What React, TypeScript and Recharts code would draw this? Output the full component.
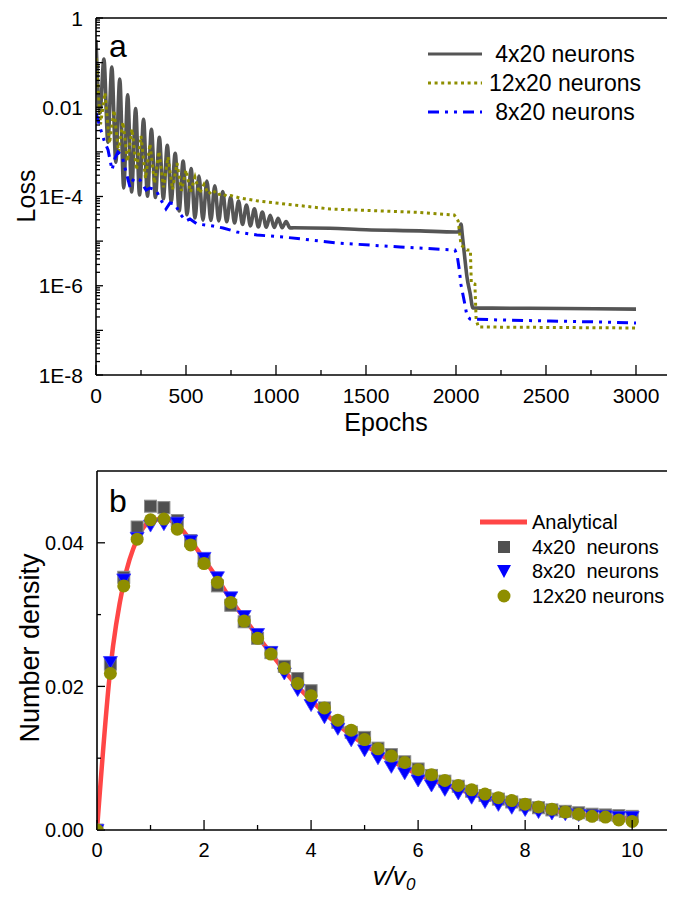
import React from 'react';
import { ComposedChart, Line, Scatter, XAxis, YAxis, ReferenceLine } from 'recharts';

const FONT = '"Liberation Sans", Arial, Helvetica, sans-serif';

// ---------------- Panel a : Loss vs Epochs ----------------
const grayEpochs = [
  0, 22, 44, 66, 88, 110, 132, 154, 176, 198,
  220, 242, 264, 286, 308, 330, 352, 374, 396, 418,
  440, 462, 484, 506, 528, 550, 572, 594, 616, 638,
  660, 682, 704, 726, 748, 770, 792, 814, 836, 858,
  880, 902, 924, 946, 968, 990, 1012, 1034, 1056, 1078,
  1100, 1300, 1500, 1800, 2000, 2015, 2028, 2035, 2050, 2061, 2078, 2094, 2200, 2600, 3000,
];
const grayLoss = [
  0.321, 7.5e-3, 0.12, 1.64e-3, 0.0798, 5.87e-4, 0.043, 1.55e-4, 0.0191, 1.26e-4,
  9.37e-3, 1.08e-4, 5.4e-3, 1.02e-4, 3.19e-3, 9.55e-5, 2.11e-3, 8.88e-5, 1.4e-3, 7.76e-5,
  9.33e-4, 4.73e-5, 6.21e-4, 3.89e-5, 4.22e-4, 3.3e-5, 2.88e-4, 2.96e-5, 2.21e-4, 2.9e-5,
  1.73e-4, 2.85e-5, 1.29e-4, 2.72e-5, 9.6e-5, 2.55e-5, 7.9e-5, 2.37e-5, 6.45e-5, 2.2e-5,
  5.3e-5, 2.07e-5, 4.47e-5, 2.04e-5, 3.81e-5, 2.02e-5, 3.23e-5, 1.99e-5, 2.75e-5, 1.97e-5,
  2.0e-5, 1.94e-5, 1.8e-5, 1.7e-5, 1.6e-5, 1.6e-5, 2.4e-5, 1.37e-5, 3.8e-6, 1.57e-6, 6.9e-7, 3.2e-7, 3.15e-7, 3.1e-7, 3.0e-7,
];

const oliveEpochs = [
  0, 25, 50, 75, 100, 125, 150, 175, 200, 225,
  250, 275, 300, 325, 350, 375, 400, 425, 450, 475,
  500, 525, 550, 575, 600, 625, 650, 675, 700, 725,
  750, 800, 900, 1000, 1100, 1300, 1600, 1800, 1990, 2012,
  2028, 2060, 2080, 2085, 2105, 2112, 2125, 3000,
];
const oliveLoss = [
  0.127, 4.13e-3, 0.021, 1.55e-3, 8.59e-3, 9.98e-4, 4.67e-3, 6.15e-4, 3.27e-3, 3.93e-4,
  2.28e-3, 2.52e-4, 1.52e-3, 1.97e-4, 1.03e-3, 1.6e-4, 7.71e-4, 1.42e-4, 5.6e-4, 1.34e-4,
  3.94e-4, 1.26e-4, 2.72e-4, 1.19e-4, 1.86e-4, 1.13e-4, 1.4e-4, 1.07e-4, 1.18e-4, 1.02e-4,
  1.05e-4, 9.25e-5, 7.93e-5, 7.15e-5, 6.45e-5, 5.25e-5, 4.73e-5, 4.38e-5, 3.85e-5, 2.83e-5,
  8.2e-6, 6.3e-6, 6.3e-6, 1.15e-6, 1.09e-6, 1.71e-7, 1.19e-7, 1.13e-7,
];

const blueEpochs = [
  0, 22, 44, 67, 89, 106, 122, 144, 167, 189,
  211, 244, 278, 300, 333, 361, 389, 411, 439, 467,
  500, 522, 561, 606, 650, 706, 783, 894, 1039, 1339,
  1689, 1994, 2006, 2017, 2028, 2039, 2050, 2061, 2078, 2244,
  2522, 2800, 3000,
];
const blueLoss = [
  7.43e-3, 3.61e-3, 1.85e-3, 1.1e-3, 3.93e-4, 7.29e-4, 9.93e-4, 8.09e-4, 3.54e-4, 1.63e-4,
  2.6e-4, 2.34e-4, 1.4e-4, 1.55e-4, 1.4e-4, 8.35e-5, 5.25e-5, 7.15e-5, 6.79e-5, 4.06e-5,
  2.83e-5, 3.13e-5, 2.42e-5, 2.3e-5, 2.18e-5, 1.97e-5, 1.6e-5, 1.37e-5, 1.24e-5, 9.08e-6,
  7.38e-6, 6.32e-6, 4.89e-6, 2.5e-6, 1.04e-6, 6.21e-7, 3.71e-7, 2.1e-7, 1.8e-7, 1.71e-7,
  1.62e-7, 1.54e-7, 1.46e-7,
];

const epochTicks = [0, 250, 500, 750, 1000, 1250, 1500, 1750, 2000, 2250, 2500, 2750, 3000];
const epochLabelStep = 500;
const lossDecades = [-8, -7, -6, -5, -4, -3, -2, -1];
const lossMinorMult = [1, 2, 3, 4, 5, 6, 7, 8, 9];
const lossLabelValues = [1, 0.01, 1e-4, 1e-6, 1e-8];
const lossLabelTexts = ['1', '0.01', '1E-4', '1E-6', '1E-8'];

// ---------------- Panel b : Number density vs v/v0 ----------------
const vRatio = [
  0, 0.25, 0.5, 0.75, 1, 1.25, 1.5, 1.75, 2, 2.25, 2.5, 2.75, 3, 3.25, 3.5, 3.75, 4, 4.25, 4.5, 4.75,
  5, 5.25, 5.5, 5.75, 6, 6.25, 6.5, 6.75, 7, 7.25, 7.5, 7.75, 8, 8.25, 8.5, 8.75, 9, 9.25, 9.5, 9.75, 10,
];
const analytical = [
  0, 0.0225, 0.0345, 0.0405, 0.043, 0.0433, 0.0425, 0.0403, 0.0377, 0.035, 0.0321, 0.0295, 0.027, 0.0246,
  0.0222, 0.02, 0.0181, 0.0163, 0.0147, 0.0132, 0.0119, 0.0107, 0.0096, 0.0087, 0.0077, 0.007, 0.0063,
  0.0057, 0.0051, 0.0046, 0.0041, 0.0037, 0.0033, 0.003, 0.0027, 0.0024, 0.0022, 0.002, 0.0018, 0.0017, 0.0016,
];
const nn4x20 = [
  0, 0.0231, 0.0352, 0.0422, 0.0451, 0.0449, 0.0431, 0.0403, 0.0375, 0.034, 0.0313, 0.029, 0.0267, 0.0247,
  0.0228, 0.0211, 0.0194, 0.017, 0.015, 0.0136, 0.0129, 0.0114, 0.0105, 0.0095, 0.0085, 0.0076, 0.0068,
  0.0061, 0.0054, 0.0048, 0.0043, 0.0039, 0.0035, 0.0031, 0.0028, 0.0026, 0.0024, 0.0022, 0.0021, 0.002, 0.0019,
];
const nn8x20 = [
  0, 0.0234, 0.0349, 0.0407, 0.0424, 0.0426, 0.0428, 0.0403, 0.0379, 0.0352, 0.0324, 0.0298, 0.0273, 0.0248,
  0.0218, 0.0195, 0.0174, 0.0157, 0.0141, 0.0125, 0.0111, 0.01, 0.0088, 0.0079, 0.0069, 0.0062, 0.0056,
  0.0051, 0.0045, 0.0039, 0.0035, 0.0031, 0.0028, 0.0025, 0.0023, 0.0022, 0.0021, 0.002, 0.0019, 0.0018, 0.0018,
];
const nn12x20 = [
  0, 0.0218, 0.034, 0.0405, 0.0432, 0.0433, 0.0419, 0.0397, 0.0371, 0.0345, 0.0317, 0.0291, 0.0267, 0.0245,
  0.0225, 0.0204, 0.0187, 0.017, 0.0153, 0.0139, 0.0126, 0.0113, 0.0103, 0.0094, 0.0084, 0.0077, 0.0069,
  0.0062, 0.0056, 0.005, 0.0045, 0.0041, 0.0036, 0.0032, 0.0029, 0.0025, 0.0022, 0.0019, 0.0018, 0.0014, 0.0012,
];
const vTicks = [0, 1, 2, 3, 4, 5, 6, 7, 8, 9, 10];
const densityTicks = [0, 0.01, 0.02, 0.03, 0.04];
const densityLabelTicks = [0, 0.02, 0.04];

const topLegend = ['4x20 neurons', '12x20 neurons', '8x20 neurons'];
const bottomLegend = ['Analytical', '4x20  neurons', '8x20  neurons', '12x20 neurons'];

// ---------------- styles ----------------
const GRAY = '#555555';
const OLIVE = '#8e8e00';
const BLUE = '#0000ff';
const RED = '#ff4646';
const TM = 13;

const toPts = (xs: number[], ys: number[]) => xs.map((x, i) => ({ x, y: ys[i] }));

const grayData = toPts(grayEpochs, grayLoss);
const oliveData = toPts(oliveEpochs, oliveLoss);
const blueData = toPts(blueEpochs, blueLoss);

const lossTicks: number[] = [];
lossDecades.forEach((d) => lossMinorMult.forEach((m) => lossTicks.push(m * Math.pow(10, d))));
lossTicks.push(1);

const analyticalData = toPts(vRatio, analytical);
const d4 = toPts(vRatio, nn4x20);
const d8 = toPts(vRatio, nn8x20);
const d12 = toPts(vRatio, nn12x20);

function LossTick(props: any) {
  const { x, y, payload } = props;
  const v = payload.value as number;
  const exp = Math.round(Math.log10(v));
  const isDecade = Math.abs(v / Math.pow(10, exp) - 1) < 1e-6;
  const idx = lossLabelValues.findIndex((lv) => Math.abs(lv / v - 1) < 1e-6);
  const ax = x + TM;
  return (
    <g>
      <line x1={ax} x2={ax + (isDecade ? 7 : 4)} y1={y} y2={y} stroke="#000" strokeWidth={1.3} />
      {idx >= 0 && (
        <text x={x} y={y} dy="0.36em" textAnchor="end" fontSize={21} fontFamily={FONT} fill="#000">
          {lossLabelTexts[idx]}
        </text>
      )}
    </g>
  );
}

function EpochTick(props: any) {
  const { x, y, payload } = props;
  const v = payload.value as number;
  const major = v % epochLabelStep === 0;
  const ay = y - TM;
  return (
    <g>
      <line x1={x} x2={x} y1={ay} y2={ay - (major ? 10 : 5)} stroke="#000" strokeWidth={1.3} />
      {major && (
        <text x={x} y={y} dy="0.72em" textAnchor="middle" fontSize={21} fontFamily={FONT} fill="#000">
          {v}
        </text>
      )}
    </g>
  );
}

function DensityTick(props: any) {
  const { x, y, payload } = props;
  const v = payload.value as number;
  const major = densityLabelTicks.some((t) => Math.abs(t - v) < 1e-9);
  const ax = x + TM;
  return (
    <g>
      <line x1={ax} x2={ax + (major ? 8 : 4)} y1={y} y2={y} stroke="#000" strokeWidth={1.3} />
      {major && (
        <text x={x} y={y} dy="0.36em" textAnchor="end" fontSize={20} fontFamily={FONT} fill="#000">
          {v.toFixed(2)}
        </text>
      )}
    </g>
  );
}

function VTick(props: any) {
  const { x, y, payload } = props;
  const v = payload.value as number;
  const major = v % 2 === 0;
  const ay = y - TM;
  return (
    <g>
      <line x1={x} x2={x} y1={ay} y2={ay - (major ? 10 : 5)} stroke="#000" strokeWidth={1.3} />
      {major && (
        <text x={x} y={y} dy="0.72em" textAnchor="middle" fontSize={20} fontFamily={FONT} fill="#000">
          {v}
        </text>
      )}
    </g>
  );
}

const SquareShape = (p: any) => (
  <rect x={p.cx - 6} y={p.cy - 6} width={12} height={12} fill="#505050" stroke="#8c8c8c" strokeWidth={1} />
);
const TriangleShape = (p: any) => (
  <polygon
    points={`${p.cx - 7},${p.cy - 5.5} ${p.cx + 7},${p.cy - 5.5} ${p.cx},${p.cy + 6.5}`}
    fill={BLUE}
    stroke="#3a3aff"
    strokeWidth={0.8}
  />
);
const CircleShape = (p: any) => <circle cx={p.cx} cy={p.cy} r={6.5} fill={OLIVE} />;

const axisLine = { stroke: '#000', strokeWidth: 1.6 };

export default function App() {
  return (
    <div style={{ position: 'relative', width: 667, height: 885, background: '#fff' }}>
      <ComposedChart width={667} height={450} margin={{ top: 10, right: 0, bottom: 0, left: 0 }}>
        <XAxis
          type="number"
          dataKey="x"
          domain={[0, 3216.7]}
          allowDataOverflow
          ticks={epochTicks}
          interval={0}
          tickSize={0}
          tickMargin={TM}
          tickLine={false}
          axisLine={axisLine}
          tick={(p: any) => <EpochTick {...p} />}
          height={83}
        />
        <YAxis
          type="number"
          scale="log"
          domain={[1e-8, 1]}
          allowDataOverflow
          ticks={lossTicks}
          interval={0}
          tickSize={0}
          tickMargin={TM}
          tickLine={false}
          axisLine={axisLine}
          tick={(p: any) => <LossTick {...p} />}
          width={88}
        />
        <ReferenceLine y={1} stroke="#000" strokeWidth={1.6} />
        <Line data={grayData} dataKey="y" type="monotone" stroke={GRAY} strokeWidth={3.6} dot={false} activeDot={false} isAnimationActive={false} />
        <Line data={oliveData} dataKey="y" type="linear" stroke={OLIVE} strokeWidth={3} strokeDasharray="3 3.6" dot={false} activeDot={false} isAnimationActive={false} />
        <Line data={blueData} dataKey="y" type="linear" stroke={BLUE} strokeWidth={3} strokeDasharray="11 6 3 6 3 6" dot={false} activeDot={false} isAnimationActive={false} />
      </ComposedChart>

      <ComposedChart width={667} height={435} margin={{ top: 13, right: 0, bottom: 0, left: 0 }}>
        <XAxis
          type="number"
          dataKey="x"
          domain={[0, 10.8]}
          allowDataOverflow
          ticks={vTicks}
          interval={0}
          tickSize={0}
          tickMargin={TM}
          tickLine={false}
          axisLine={axisLine}
          tick={(p: any) => <VTick {...p} />}
          height={63}
        />
        <YAxis
          type="number"
          domain={[0, 0.05]}
          allowDataOverflow
          ticks={densityTicks}
          interval={0}
          tickSize={0}
          tickMargin={TM}
          tickLine={false}
          axisLine={axisLine}
          tick={(p: any) => <DensityTick {...p} />}
          width={89}
        />
        <ReferenceLine y={0.05} stroke="#000" strokeWidth={1.6} />
        <Line data={analyticalData} dataKey="y" type="monotone" stroke={RED} strokeWidth={4.5} dot={false} activeDot={false} isAnimationActive={false} />
        <Scatter data={d4} dataKey="y" shape={SquareShape} isAnimationActive={false} />
        <Scatter data={d8} dataKey="y" shape={TriangleShape} isAnimationActive={false} />
        <Scatter data={d12} dataKey="y" shape={CircleShape} isAnimationActive={false} />
      </ComposedChart>

      <svg
        width={667}
        height={885}
        style={{ position: 'absolute', left: 0, top: 0, overflow: 'visible', pointerEvents: 'none' }}
        fontFamily={FONT}
      >
        {/* panel a texts */}
        <text x={101} y={49} fontSize={32} fill="#000">a</text>
        <text x={18} y={188} fontSize={25} fill="#000" textAnchor="middle" dominantBaseline="central" transform="rotate(-90 18 188)">Loss</text>
        <text x={378} y={423} fontSize={25} fill="#000" textAnchor="middle">Epochs</text>
        {/* panel a legend */}
        <line x1={420} x2={474} y1={46} y2={46} stroke={GRAY} strokeWidth={3} />
        <line x1={420} x2={474} y1={75} y2={75} stroke={OLIVE} strokeWidth={3} strokeDasharray="3 3.6" />
        <line x1={420} x2={474} y1={104} y2={104} stroke={BLUE} strokeWidth={3} strokeDasharray="11 6 3 6 3 6" />
        {topLegend.map((t, i) => (
          <text key={t} x={557} y={46 + i * 29} dy="0.36em" fontSize={23} textAnchor="middle" fill="#000">{t}</text>
        ))}

        {/* panel b texts */}
        <text x={101} y={504} fontSize={32} fill="#000">b</text>
        <text x={22} y={640} fontSize={27} fill="#000" textAnchor="middle" dominantBaseline="central" transform="rotate(-90 22 640)">Number density</text>
        <text x={386} y={877} fontSize={26} fill="#000" textAnchor="middle" fontStyle="italic">
          v/v<tspan fontSize={17} dy={5}>0</tspan>
        </text>
        {/* panel b legend */}
        <line x1={472} x2={519} y1={514} y2={514} stroke={RED} strokeWidth={5} />
        <rect x={490} y={533} width={12} height={12} fill="#505050" />
        <polygon points="489,557 503,557 496,570" fill={BLUE} />
        <circle cx={496} cy={588} r={6.5} fill={OLIVE} />
        {bottomLegend.map((t, i) => (
          <text key={t} x={524} y={[514, 539, 563, 588][i]} dy="0.36em" fontSize={20} fill="#000" style={{ whiteSpace: 'pre' }}>{t}</text>
        ))}
      </svg>
    </div>
  );
}
